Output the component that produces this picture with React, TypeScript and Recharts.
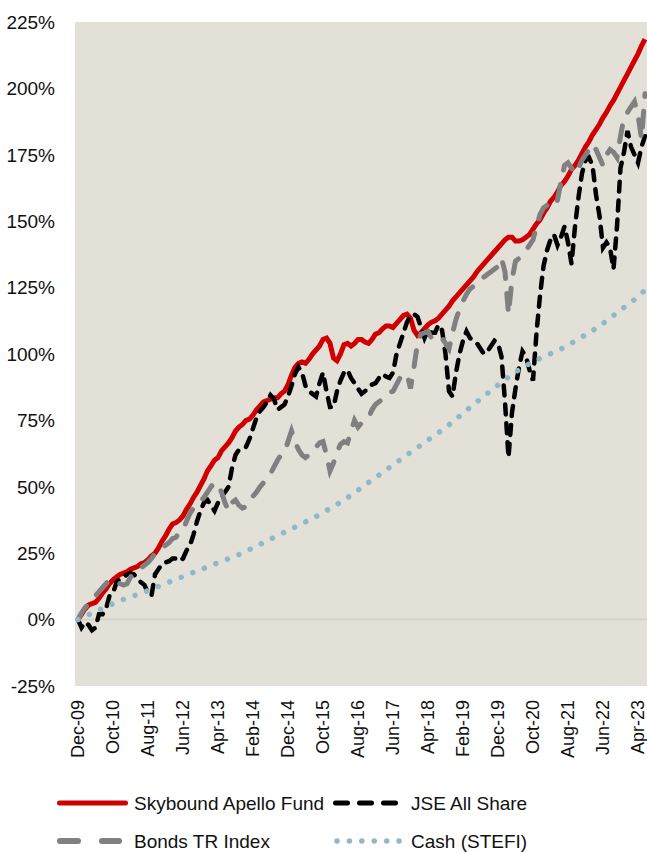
import React from "react";
import { CartesianGrid, Line, LineChart, ReferenceLine, XAxis, YAxis } from "recharts";

// monthly cumulative returns (%), Dec-09 .. Jun-23
const FUND = [
  0, 2, 4, 5.5, 6, 6.5, 8, 10, 11.5, 13.5,
  15, 16, 17, 17.5, 18, 19, 19.5, 20, 21, 21.5,
  22.5, 24, 25, 27, 29.5, 31.5, 34, 36, 36.5, 37.5,
  39, 41.5, 43.5, 46, 48, 50.5, 53, 56, 58, 60,
  61, 63.5, 65, 66.5, 68.5, 71, 72.5, 73.5, 75, 75.5,
  77, 79, 80.5, 82, 82.5, 83, 83.5, 83.5, 85, 86,
  88.5, 92, 95, 96.5, 97, 96.5, 98, 100, 101.5, 103,
  105.5, 106, 104, 98.5, 97.5, 100, 103.5, 104, 103, 104,
  105.5, 105.5, 104.5, 104, 105.5, 107.5, 108, 109.5, 110.5, 110.5,
  110, 111.5, 113, 114.5, 115, 113.5, 109, 107, 108, 109.5,
  111, 112, 112.5, 113.5, 115, 116.5, 118, 120, 121.5, 123,
  124.5, 126, 127.5, 129, 131, 132.5, 134, 135.5, 137, 138.5,
  140, 141.5, 143, 144, 144, 142.5, 142.5, 143, 144, 145,
  147, 149, 150.5, 153, 155, 157.5, 159, 161, 163.5, 165,
  167, 169.5, 171, 173, 175.5, 178, 180, 182.5, 184.5, 186.5,
  189, 191, 193.5, 195.5, 198, 200.5, 203, 205.5, 208, 210.5,
  213, 216, 218.5,
];

const JSE = [
  0, -3, -1, -2, -4, -3, 2, 2, 4, 9,
  10, 14, 15.5, 16, 17, 17.5, 17, 15.5, 14, 13,
  10, 9, 17, 19, 21, 21.5, 22, 23, 23, 22,
  23, 26, 28, 32, 37, 41, 44, 45, 43, 41,
  44, 46.5, 48, 50, 57, 62, 64, 64.5, 65, 68,
  72, 76, 78.5, 80, 82, 84.5, 83, 79, 80, 81,
  84, 88, 92.5, 95, 93, 88, 86, 85, 84, 89,
  93, 86, 80, 80, 86, 90, 93, 94, 91, 89,
  87, 85, 86, 87.5, 88.5, 89, 91, 92.5, 91.5, 91,
  93, 100, 104, 108, 112, 114.5, 115, 114, 110, 106,
  109, 108, 108, 111, 109, 100, 86, 84, 93, 100,
  105, 108.5, 106, 105, 104, 102, 100, 101, 103, 105,
  104, 99, 82, 61, 78, 87, 95, 101, 99, 94,
  90, 108, 122, 133, 139, 143, 145, 141, 144, 148,
  142, 134, 148, 159, 168, 173, 174, 171, 160, 152,
  140, 142, 140, 132, 148, 170, 176, 184, 178, 175,
  172, 178, 182,
];

const BONDS = [
  0, 2.5, 4.5, 6, 7.5, 9, 10.5, 12, 13.5, 15,
  14.5, 14, 13.5, 13, 13.5, 16, 17.5, 18.5, 19.5, 20.5,
  21.5, 23, 25, 26, 27, 28, 29, 30.5, 31, 33,
  34, 37, 40, 42, 43, 44.5, 46, 48, 50, 51.5,
  51, 48, 44, 41, 44, 45, 43, 42, 42.5, 44.5,
  46.5, 48, 50, 51.5, 53, 55, 57.5, 60, 62, 63,
  67, 71, 67, 64, 62, 61, 62, 63, 65, 66.5,
  67, 62, 56, 59, 63, 66, 67, 66.5, 71, 75,
  72.5, 74, 75, 76, 79, 81, 82, 83, 84, 85.5,
  86, 88.5, 91, 92, 92.5, 87, 95, 104, 107.5, 108,
  108.5, 106, 105, 105.5, 106, 104, 102, 108, 113, 117,
  120, 122.5, 124.5, 125.5, 127, 128, 129, 130, 131, 132,
  133, 136, 131, 115, 128, 135, 136, 137.5, 139, 141,
  143, 148, 152.5, 155, 156, 157, 156, 158, 165, 171,
  172, 170, 168, 170, 173, 175, 177, 179, 177, 174,
  171, 175, 177, 176, 174, 182, 189, 191, 193, 195,
  190, 181, 198,
];

const CASH = [
  0, 0.6, 1.2, 1.8, 2.4, 3, 3.6, 4.2, 4.8, 5.4,
  6, 6.6, 7.2, 7.6, 8.1, 8.6, 9, 9.5, 10, 10.4,
  10.9, 11.4, 12, 12.5, 13, 13.6, 14.1, 14.6, 15.2, 15.7,
  16.2, 16.7, 17.3, 17.8, 18.3, 18.8, 19.3, 19.8, 20.4, 20.9,
  21.4, 21.9, 22.4, 22.9, 23.4, 23.9, 24.5, 25.1, 25.8, 26.4,
  27, 27.7, 28.3, 29, 29.6, 30.3, 30.9, 31.6, 32.2, 32.9,
  33.5, 34.2, 34.8, 35.5, 36.1, 36.8, 37.4, 38.1, 38.8, 39.6,
  40.3, 41.1, 41.9, 42.6, 43.4, 44.2, 45, 45.9, 46.8, 47.8,
  48.7, 49.7, 50.6, 51.6, 52.5, 53.5, 54.4, 55.4, 56.3, 57.3,
  58.2, 59.2, 60.1, 61.1, 62, 63, 63.9, 64.8, 65.7, 66.7,
  67.6, 68.5, 69.4, 70.4, 71.3, 72.2, 73.3, 74.4, 75.5, 76.6,
  77.7, 78.8, 79.9, 81, 82, 83.1, 84.1, 85.2, 86.2, 87.3,
  88.3, 89.4, 90.3, 91.3, 92.2, 93.2, 94.1, 95, 95.7, 96.3,
  97, 97.7, 98.3, 99, 99.5, 100.1, 100.6, 101.2, 101.9, 102.6,
  103.4, 104.1, 104.9, 105.6, 106.4, 107.2, 108, 108.8, 109.7, 110.5,
  111.5, 112.5, 113.5, 114.5, 115.5, 116.5, 117.5, 118.5, 119.5, 120.5,
  121.6, 122.8, 124.1,
];

const MONTHS = ["Jan", "Feb", "Mar", "Apr", "May", "Jun", "Jul", "Aug", "Sep", "Oct", "Nov", "Dec"];
const Y_TICKS = [-25, 0, 25, 50, 75, 100, 125, 150, 175, 200, 225];

const SERIES_NAMES = ["Skybound Apello Fund", "JSE All Share", "Bonds TR Index", "Cash (STEFI)"];

// month labels starting Dec-09
const DATES = FUND.map((_, i) => {
  const m = (11 + i) % 12;
  const y = 9 + Math.floor((11 + i) / 12);
  return `${MONTHS[m]}-${String(y).padStart(2, "0")}`;
});

const rows = DATES.map((date, i) => ({
  date,
  fund: FUND[i],
  jse: JSE[i],
  bonds: BONDS[i],
  cash: CASH[i],
}));

const FONT = "'Liberation Sans', Arial, sans-serif";

function XTick(props: any) {
  const { x, y, payload } = props;
  return (
    <g transform={`translate(${x},${y})`}>
      <text
        textAnchor="end"
        transform="rotate(-90)"
        dy="0.36em"
        fontSize={18}
        fill="#111"
        fontFamily={FONT}
      >
        {payload.value}
      </text>
    </g>
  );
}

function LegendBox() {
  return (
    <svg
      width={647}
      height={852}
      style={{ position: "absolute", left: 0, top: 0, pointerEvents: "none" }}
    >
      <line x1={59.5} x2={125.5} y1={803} y2={803} stroke="#d10000" strokeWidth={5} strokeLinecap="round" />
      <text x={134} y={803} dy="0.35em" fontSize={19} fill="#111" fontFamily={FONT}>
        {SERIES_NAMES[0]}
      </text>
      <line x1={335.5} x2={396.5} y1={803} y2={803} stroke="#000" strokeWidth={5} strokeLinecap="round" strokeDasharray="12 12" />
      <text x={411} y={803} dy="0.35em" fontSize={19} fill="#111" fontFamily={FONT}>
        {SERIES_NAMES[1]}
      </text>
      <line x1={60} x2={119} y1={841} y2={841} stroke="#808080" strokeWidth={6} strokeLinecap="round" strokeDasharray="18 24" />
      <text x={134} y={841} dy="0.35em" fontSize={19} fill="#111" fontFamily={FONT}>
        {SERIES_NAMES[2]}
      </text>
      <line x1={337} x2={400} y1={841} y2={841} stroke="#8fb8c8" strokeWidth={5.5} strokeLinecap="round" strokeDasharray="0.01 12.4" />
      <text x={411} y={841} dy="0.35em" fontSize={19} fill="#111" fontFamily={FONT}>
        {SERIES_NAMES[3]}
      </text>
    </svg>
  );
}

export default function App() {
  return (
    <div
      style={{
        position: "absolute",
        left: 0,
        top: 0,
        width: 647,
        height: 852,
        background: "#fff",
        fontFamily: FONT,
      }}
    >
      <LineChart width={647} height={790} data={rows} margin={{ top: 22, right: 0, left: 0, bottom: 0 }}>
        <CartesianGrid horizontal={false} vertical={false} fill="#e3e0d8" stroke="none" />
        <XAxis
          dataKey="date"
          interval={9}
          tickLine={false}
          axisLine={false}
          tickSize={0}
          tickMargin={14}
          height={104}
          padding={{ left: 3, right: 2 }}
          tick={<XTick />}
        />
        <YAxis
          domain={[-25, 225]}
          ticks={Y_TICKS}
          tickFormatter={(v) => `${v}%`}
          width={75}
          tickLine={false}
          axisLine={false}
          tickSize={0}
          tickMargin={20}
          allowDataOverflow
          tick={{ fontSize: 19, fill: "#111", fontFamily: FONT }}
        />
        <ReferenceLine y={0} stroke="#d2cec6" strokeWidth={1.5} />
        <Line
          dataKey="fund"
          name={SERIES_NAMES[0]}
          stroke="#d10000"
          strokeWidth={5}
          dot={false}
          activeDot={false}
          isAnimationActive={false}
          type="linear"
        />
        <Line
          dataKey="jse"
          name={SERIES_NAMES[1]}
          stroke="#000"
          strokeWidth={4.5}
          strokeDasharray="10 9"
          strokeLinecap="round"
          dot={false}
          activeDot={false}
          isAnimationActive={false}
          type="linear"
        />
        <Line
          dataKey="bonds"
          name={SERIES_NAMES[2]}
          stroke="#808080"
          strokeWidth={5}
          strokeDasharray="16 15"
          strokeLinecap="round"
          dot={false}
          activeDot={false}
          isAnimationActive={false}
          type="linear"
        />
        <Line
          dataKey="cash"
          name={SERIES_NAMES[3]}
          stroke="#8fb8c8"
          strokeWidth={5.5}
          strokeDasharray="0.01 12.4"
          strokeLinecap="round"
          dot={false}
          activeDot={false}
          isAnimationActive={false}
          type="linear"
        />
      </LineChart>
      <LegendBox />
    </div>
  );
}
